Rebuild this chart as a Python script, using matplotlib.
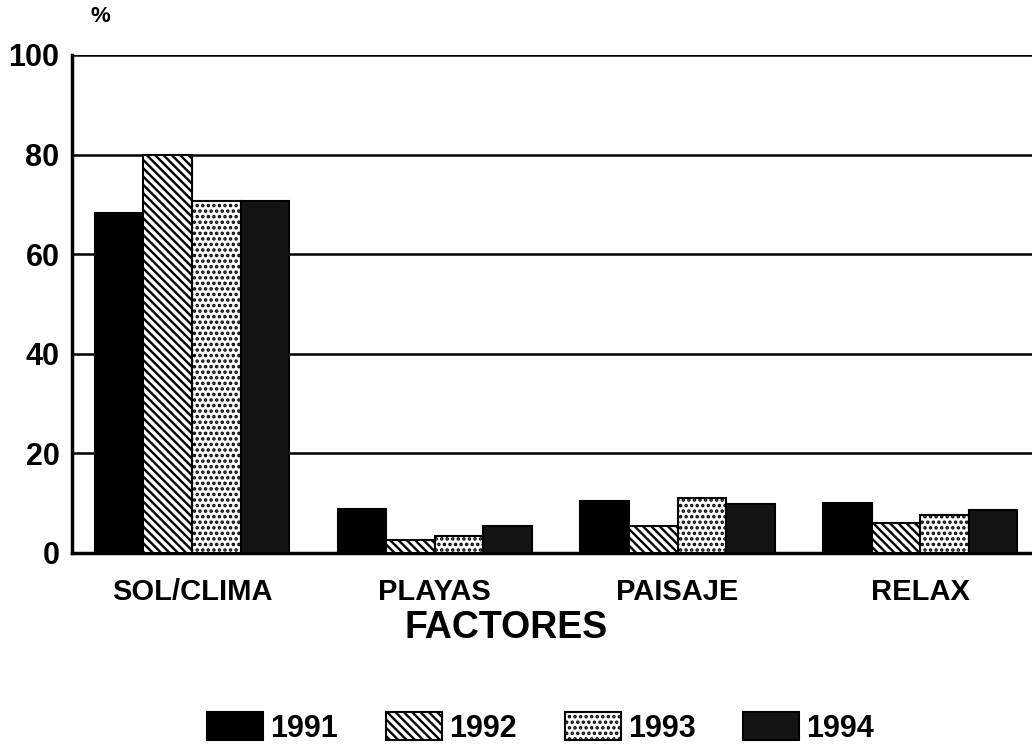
import matplotlib.pyplot as plt
import numpy as np

# data
factores = ["SOL/CLIMA", "PLAYAS", "PAISAJE", "RELAX"]
years = ["1991", "1992", "1993", "1994"]
v1991 = [68.3, 8.8, 10.4, 10.0]
v1992 = [80.0, 2.6, 5.4, 6.0]
v1993 = [70.7, 3.4, 11.0, 7.6]
v1994 = [70.7, 5.4, 9.8, 8.6]
yticks = [0, 20, 40, 60, 80, 100]

plt.rcParams['font.family'] = ['Liberation Sans', 'DejaVu Sans']
plt.rcParams['font.weight'] = 'bold'
plt.rcParams['hatch.linewidth'] = 1.7

fig = plt.figure(figsize=(10.32, 7.49), dpi=100)
ax = fig.add_axes([0.0698, 0.2617, 0.9302, 0.6649])

x = np.arange(len(factores))
w = 0.2
styles = [
    dict(facecolor="black", edgecolor="black", hatch=None),
    dict(facecolor="white", edgecolor="black", hatch="\\\\\\\\"),
    dict(facecolor="white", edgecolor="black", hatch="..."),
    dict(facecolor="#141414", edgecolor="black", hatch=None),
]
series = [v1991, v1992, v1993, v1994]
handles = []
for i, (vals, st) in enumerate(zip(series, styles)):
    b = ax.bar(x + (i - 1.5) * w, vals, width=w, linewidth=1.5, zorder=3,
               label=years[i], **st)
    handles.append(b)

ax.set_xlim(-0.494, 3.46)
ax.set_ylim(0, 100)
ax.set_yticks(yticks)
ax.set_yticklabels([str(t) for t in yticks], fontsize=22, fontweight='bold')
ax.set_xticks(x)
ax.set_xticklabels(factores, fontsize=21, fontweight='bold')
ax.tick_params(axis='y', length=0, pad=9)
ax.tick_params(axis='x', length=0, pad=18)
ax.grid(axis='y', color='black', linewidth=1.8, zorder=0)
ax.spines['left'].set_linewidth(2.5)
ax.spines['bottom'].set_linewidth(2.5)
ax.spines['top'].set_visible(False)
ax.spines['right'].set_visible(False)

ax.set_xlabel("FACTORES", fontsize=27, fontweight='bold')
ax.xaxis.set_label_coords(0.452, -0.115)
fig.text(0.097, 0.978, "%", fontsize=16, fontweight='bold', ha='center', va='center')

fig.legend(handles=handles, labels=years, loc='center', ncol=4,
           bbox_to_anchor=(0.524, 0.028), frameon=False,
           prop=dict(weight='bold', size=22),
           handlelength=1.83, handleheight=1.0, columnspacing=1.57,
           handletextpad=0.23, borderpad=0.1)

fig.savefig("out.png", dpi=100)
